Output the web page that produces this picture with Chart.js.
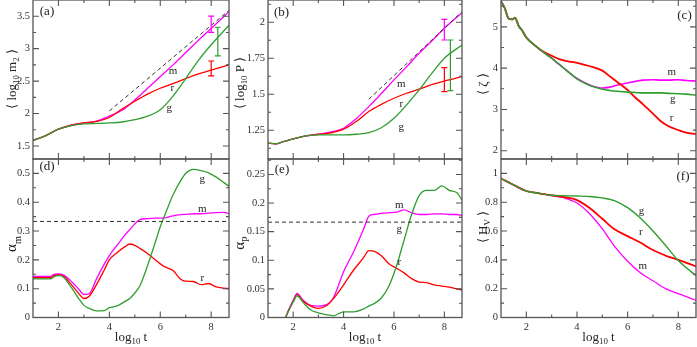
<!DOCTYPE html>
<html>
<head>
<meta charset="utf-8">
<script src="https://cdn.jsdelivr.net/npm/chart.js@4.4.0/dist/chart.umd.min.js"></script>
<style>
  html, body { margin: 0; padding: 0; background: #fff; }
  #wrap { position: relative; width: 697px; height: 347px; overflow: hidden; }
  #wrap canvas { position: absolute; left: 0; top: 0; }
</style>
</head>
<body>
<div id="wrap">
  <canvas id="pa" width="697" height="347"></canvas>
  <canvas id="pb" width="697" height="347"></canvas>
  <canvas id="pc" width="697" height="347"></canvas>
  <canvas id="pd" width="697" height="347"></canvas>
  <canvas id="pe" width="697" height="347"></canvas>
  <canvas id="pf" width="697" height="347"></canvas>
</div>
<script>
// ---- data (x = log10 t) ----
const xTicks = [2, 4, 6, 8];

// (a) <log10 m2>
const tA = [1, 1.5, 2, 2.5, 3, 3.5, 4, 4.5, 5, 5.5, 6, 6.5, 7, 7.5, 8, 8.7];
const aM = [1.585, 1.66, 1.76, 1.82, 1.855, 1.885, 1.96, 2.05, 2.21, 2.39, 2.57, 2.75, 2.94, 3.13, 3.31, 3.57];
const aR = [1.585, 1.66, 1.76, 1.82, 1.855, 1.88, 1.94, 2.07, 2.19, 2.30, 2.39, 2.46, 2.54, 2.61, 2.67, 2.75];
const aG = [1.585, 1.66, 1.76, 1.815, 1.84, 1.848, 1.856, 1.87, 1.905, 1.96, 2.06, 2.27, 2.54, 2.82, 3.06, 3.36];
const aDashT = [4, 8.7];
const aDashV = [2.04, 3.59];
const aErrT = [8, 8, 8.26];
const aErrLo = [3.25, 2.58, 2.89];
const aErrHi = [3.5, 2.81, 3.33];

// (b) <log10 P>
const tB = [1, 1.3, 1.6, 2, 2.5, 3, 3.5, 4, 4.5, 5, 5.5, 6, 6.5, 7, 7.5, 8, 8.7];
const bM = [1.16, 1.155, 1.17, 1.19, 1.21, 1.222, 1.238, 1.264, 1.33, 1.414, 1.505, 1.60, 1.69, 1.785, 1.87, 1.958, 2.067];
const bR = [1.16, 1.155, 1.17, 1.19, 1.21, 1.222, 1.232, 1.257, 1.31, 1.38, 1.43, 1.472, 1.507, 1.535, 1.567, 1.592, 1.622];
const bG = [1.16, 1.155, 1.17, 1.19, 1.21, 1.218, 1.218, 1.218, 1.222, 1.233, 1.267, 1.333, 1.426, 1.53, 1.645, 1.75, 1.842];
const bDashT = [5, 8.7];
const bDashV = [1.465, 2.074];
const bErrT = [8, 8, 8.24];
const bErrLo = [1.877, 1.518, 1.525];
const bErrHi = [2.021, 1.685, 1.877];

// (c) <zeta>
const tC = [1, 1.15, 1.3, 1.45, 1.55, 1.7, 1.85, 2, 2.3, 2.6, 3, 3.3, 3.6, 4, 4.3, 4.6, 5, 5.3, 5.6, 6, 6.3, 6.6, 7, 7.3, 7.6, 8, 8.3, 8.7];
const cM = [5.62, 5.45, 5.2, 5.18, 5.22, 5.02, 4.9, 4.74, 4.57, 4.42, 4.24, 4.09, 3.94, 3.75, 3.65, 3.57, 3.52, 3.54, 3.59, 3.64, 3.68, 3.71, 3.72, 3.71, 3.71, 3.72, 3.70, 3.69];
const cR = [5.62, 5.45, 5.2, 5.18, 5.22, 5.02, 4.9, 4.74, 4.57, 4.43, 4.30, 4.22, 4.17, 4.13, 4.08, 4.03, 3.94, 3.80, 3.66, 3.47, 3.29, 3.13, 2.90, 2.72, 2.60, 2.50, 2.44, 2.40];
const cG = [5.62, 5.45, 5.2, 5.18, 5.22, 5.02, 4.9, 4.74, 4.57, 4.42, 4.24, 4.09, 3.94, 3.74, 3.64, 3.56, 3.49, 3.46, 3.44, 3.42, 3.41, 3.40, 3.40, 3.40, 3.39, 3.38, 3.37, 3.35];

// (d) alpha_m
const tD = [1, 1.7, 1.8, 2, 2.2, 2.5, 2.8, 3, 3.2, 3.5, 3.8, 4, 4.3, 4.6, 4.8, 5, 5.2, 5.5, 5.8, 6, 6.2, 6.5, 6.8, 7, 7.3, 7.6, 7.9, 8.2, 8.5, 8.7];
const dM = [0.143, 0.143, 0.149, 0.151, 0.147, 0.126, 0.098, 0.08, 0.082, 0.135, 0.185, 0.215, 0.25, 0.285, 0.305, 0.325, 0.34, 0.343, 0.345, 0.345, 0.346, 0.353, 0.357, 0.358, 0.36, 0.36, 0.362, 0.364, 0.365, 0.36];
const dR = [0.138, 0.138, 0.145, 0.148, 0.143, 0.115, 0.083, 0.066, 0.073, 0.115, 0.165, 0.20, 0.225, 0.245, 0.255, 0.25, 0.24, 0.222, 0.20, 0.186, 0.175, 0.163, 0.133, 0.126, 0.125, 0.114, 0.118, 0.106, 0.102, 0.10];
const dG = [0.134, 0.134, 0.14, 0.145, 0.14, 0.105, 0.065, 0.042, 0.032, 0.023, 0.024, 0.034, 0.04, 0.055, 0.066, 0.085, 0.11, 0.18, 0.26, 0.315, 0.36, 0.425, 0.475, 0.5, 0.514, 0.51, 0.502, 0.487, 0.468, 0.455];
const dRef = 1 / 3;

// (e) alpha_P
const tE = [1.7, 1.8, 2, 2.15, 2.4, 2.7, 3, 3.3, 3.6, 4, 4.4, 4.8, 5, 5.2, 5.5, 5.8, 6.1, 6.4, 6.7, 7, 7.3, 7.6, 7.9, 8.2, 8.5, 8.7];
const eM = [0, 0.012, 0.03, 0.042, 0.03, 0.021, 0.02, 0.022, 0.035, 0.08, 0.115, 0.155, 0.177, 0.18, 0.182, 0.183, 0.184, 0.188, 0.183, 0.18, 0.18, 0.181, 0.181, 0.18, 0.18, 0.178];
const eR = [0, 0.01, 0.028, 0.04, 0.028, 0.02, 0.016, 0.02, 0.033, 0.057, 0.083, 0.105, 0.117, 0.116, 0.108, 0.094, 0.086, 0.078, 0.068, 0.062, 0.061, 0.057, 0.055, 0.053, 0.05, 0.048];
const eG = [0, 0.01, 0.027, 0.038, 0.026, 0.013, 0.008, 0.005, 0.003, 0.01, 0.01, 0.015, 0.02, 0.024, 0.034, 0.055, 0.09, 0.135, 0.18, 0.213, 0.222, 0.222, 0.23, 0.222, 0.218, 0.205];
const eRef = 1 / 6;

// (f) <H_V>
const tF = [1, 1.5, 2, 2.5, 3, 3.5, 4, 4.5, 5, 5.5, 6, 6.5, 7, 7.5, 8, 8.7];
const fG = [0.965, 0.92, 0.878, 0.862, 0.848, 0.845, 0.843, 0.84, 0.83, 0.81, 0.762, 0.69, 0.60, 0.50, 0.395, 0.29];
const fR = [0.965, 0.92, 0.878, 0.862, 0.848, 0.835, 0.815, 0.76, 0.685, 0.61, 0.565, 0.52, 0.468, 0.43, 0.40, 0.355];
const fM = [0.965, 0.92, 0.878, 0.862, 0.846, 0.83, 0.795, 0.72, 0.615, 0.49, 0.39, 0.31, 0.255, 0.20, 0.165, 0.12];

const MAG = '#ff00ff', RED = '#ff0000', GRN = '#2f9e2f';
const SERIF = '"Liberation Serif", "Times New Roman", serif';
const W = 697, H = 347, YW = 40, XH = 14;

const zip = (xs, ys) => xs.map((x, i) => ({ x, y: ys[i] }));

// "log_{10} m_{2}" -> parts with subscripts
function parseRich(s) {
  const parts = [];
  s.split(/(_\{[^}]*\})/).forEach(p => {
    if (!p) return;
    if (p.startsWith('_{')) parts.push({ s: p.slice(2, -1), sub: true });
    else parts.push({ s: p, sub: false });
  });
  return parts;
}

function drawRich(ctx, text, x, y, size, rotate) {
  const parts = parseRich(text);
  ctx.save();
  ctx.translate(x, y);
  if (rotate) ctx.rotate(-Math.PI / 2);
  let total = 0;
  parts.forEach(p => {
    ctx.font = (p.sub ? size * 0.68 : size) + 'px ' + SERIF;
    p.w = ctx.measureText(p.s).width;
    total += p.w;
  });
  let cx = -total / 2;
  ctx.textBaseline = 'alphabetic';
  ctx.textAlign = 'left';
  ctx.fillStyle = '#222';
  parts.forEach(p => {
    ctx.font = (p.sub ? size * 0.68 : size) + 'px ' + SERIF;
    ctx.fillText(p.s, cx, size * 0.35 + (p.sub ? size * 0.3 : 0));
    cx += p.w;
  });
  ctx.restore();
}

function minorList(min, max, step, majors) {
  const out = [];
  for (let k = Math.ceil(min / step - 1e-9); k * step <= max + 1e-9; k++) {
    const v = +(k * step).toFixed(6);
    if (v <= min + 1e-9 || v >= max - 1e-9) continue;
    if (majors.some(m => Math.abs(m - v) < 1e-9)) continue;
    out.push(v);
  }
  return out;
}

const deco = {
  id: 'deco',
  afterDraw(chart, args, o) {
    const { ctx, chartArea: a } = chart;
    const x = chart.scales.x, y = chart.scales.y;
    ctx.save();

    // error bars
    (o.errs || []).forEach(e => {
      const px = x.getPixelForValue(e.t);
      const p1 = y.getPixelForValue(e.lo), p2 = y.getPixelForValue(e.hi);
      ctx.strokeStyle = e.color;
      ctx.lineWidth = 1.2;
      ctx.beginPath();
      ctx.moveTo(px, p1); ctx.lineTo(px, p2);
      ctx.moveTo(px - 3, p1); ctx.lineTo(px + 3, p1);
      ctx.moveTo(px - 3, p2); ctx.lineTo(px + 3, p2);
      ctx.stroke();
    });

    // frame + inward ticks on all four sides
    ctx.strokeStyle = '#555';
    ctx.lineWidth = 1.3;
    ctx.strokeRect(a.left, a.top, a.right - a.left, a.bottom - a.top);
    ctx.lineWidth = 1.1;
    ctx.beginPath();
    const xMin = minorList(x.min, x.max, 1, xTicks);
    xTicks.concat(xMin).forEach(v => {
      const len = xTicks.includes(v) ? 6 : 3;
      const px = x.getPixelForValue(v);
      ctx.moveTo(px, a.bottom); ctx.lineTo(px, a.bottom - len);
      ctx.moveTo(px, a.top); ctx.lineTo(px, a.top + len);
    });
    const yMin = minorList(y.min, y.max, o.yMinor, o.yMajor);
    o.yMajor.concat(yMin).forEach(v => {
      const len = o.yMajor.includes(v) ? 6 : 3;
      const py = y.getPixelForValue(v);
      ctx.moveTo(a.left, py); ctx.lineTo(a.left + len, py);
      ctx.moveTo(a.right, py); ctx.lineTo(a.right - len, py);
    });
    ctx.stroke();

    // panel letter
    ctx.fillStyle = '#222';
    ctx.font = '13px ' + SERIF;
    ctx.textAlign = 'center';
    ctx.textBaseline = 'middle';
    ctx.fillText(o.letter, o.letterAt[0], o.letterAt[1]);

    // curve labels in data coordinates
    ctx.font = '11px ' + SERIF;
    (o.tags || []).forEach(g => {
      ctx.fillText(g.s, x.getPixelForValue(g.t), y.getPixelForValue(g.v));
    });

    // axis titles
    drawRich(ctx, o.yTitle, o.yTitleAt[0], o.yTitleAt[1], o.yTitleSize || 13, true);
    if (o.xTitle) drawRich(ctx, o.xTitle, (a.left + a.right) / 2, 336, 13, false);
    ctx.restore();
  }
};

function line(data, color, width) {
  return { data, borderColor: color, borderWidth: width || 1.3, pointRadius: 0,
           cubicInterpolationMode: 'monotone', fill: false };
}
function dashed(data) {
  return { data, borderColor: '#333', borderWidth: 1, borderDash: [4, 3],
           pointRadius: 0, tension: 0, fill: false };
}

function makePanel(id, p) {
  const [l, t, r, b] = p.area;
  const fmt = v => String(+v.toFixed(4));
  new Chart(document.getElementById(id), {
    type: 'line',
    data: { datasets: p.datasets },
    options: {
      responsive: false,
      animation: false,
      devicePixelRatio: 1,
      layout: { padding: { left: l - YW, top: t, right: W - r, bottom: H - b - (p.xLabels ? XH : 0) } },
      plugins: { legend: { display: false }, tooltip: { enabled: false }, deco: p.deco },
      scales: {
        x: {
          type: 'linear', min: 1, max: 8.7,
          grid: { display: false, drawTicks: false },
          border: { display: false },
          ticks: { display: p.xLabels, padding: 3, color: '#333',
                   font: { family: SERIF, size: 10.5 }, callback: fmt },
          afterBuildTicks: s => { s.ticks = xTicks.map(v => ({ value: v })); },
          afterFit: s => { s.height = p.xLabels ? XH : 0; s.paddingLeft = 0; s.paddingRight = 0; }
        },
        y: {
          type: 'linear', min: p.yRange[0], max: p.yRange[1],
          grid: { display: false, drawTicks: false },
          border: { display: false },
          ticks: { padding: 3, color: '#333', font: { family: SERIF, size: 10.5 }, callback: fmt },
          afterBuildTicks: s => { s.ticks = p.deco.yMajor.map(v => ({ value: v })); },
          afterFit: s => { s.width = YW; s.paddingTop = 0; s.paddingBottom = 0; }
        }
      }
    },
    plugins: [deco]
  });
}

const TOP = [0, 159], BOT = [159, 317.5];
const COLA = [33, 229], COLB = [268, 462], COLC = [501, 696];

makePanel('pa', {
  area: [COLA[0], TOP[0], COLA[1], TOP[1]], yRange: [1.3, 3.75], xLabels: false,
  datasets: [dashed(zip(aDashT, aDashV)), line(zip(tA, aG), GRN), line(zip(tA, aR), RED), line(zip(tA, aM), MAG)],
  deco: {
    yMajor: [1.5, 2, 2.5, 3, 3.5], yMinor: 0.25,
    errs: [MAG, RED, GRN].map((c, i) => ({ t: aErrT[i], lo: aErrLo[i], hi: aErrHi[i], color: c })),
    letter: '(a)', letterAt: [47, 12],
    tags: [{ s: 'm', t: 6.5, v: 2.65 }, { s: 'r', t: 6.47, v: 2.39 }, { s: 'g', t: 6.35, v: 2.08 }],
    yTitle: '\u27e8 log_{10} m_{2} \u27e9', yTitleAt: [11, 79]
  }
});

makePanel('pb', {
  area: [COLB[0], TOP[0], COLB[1], TOP[1]], yRange: [1.05, 2.155], xLabels: false,
  datasets: [dashed(zip(bDashT, bDashV)), line(zip(tB, bG), GRN), line(zip(tB, bR), RED), line(zip(tB, bM), MAG)],
  deco: {
    yMajor: [1.25, 1.5, 1.75, 2], yMinor: 0.125,
    errs: [MAG, RED, GRN].map((c, i) => ({ t: bErrT[i], lo: bErrLo[i], hi: bErrHi[i], color: c })),
    letter: '(b)', letterAt: [281.5, 13],
    tags: [{ s: 'm', t: 6.29, v: 1.57 }, { s: 'r', t: 6.29, v: 1.43 }, { s: 'g', t: 6.29, v: 1.27 }],
    yTitle: '\u27e8 log_{10} P \u27e9', yTitleAt: [239, 83]
  }
});

makePanel('pc', {
  area: [COLC[0], TOP[0], COLC[1], TOP[1]], yRange: [1.8, 5.65], xLabels: false,
  datasets: [line(zip(tC, cG), GRN, 1.6), line(zip(tC, cR), RED, 1.8), line(zip(tC, cM), MAG, 1.6)],
  deco: {
    yMajor: [2, 3, 4, 5], yMinor: 0.5,
    letter: '(c)', letterAt: [684.5, 16],
    tags: [{ s: 'm', t: 7.74, v: 3.9 }, { s: 'g', t: 7.78, v: 3.25 }, { s: 'r', t: 7.74, v: 2.78 }],
    yTitle: '\u27e8 \u03b6 \u27e9', yTitleAt: [482, 84]
  }
});

makePanel('pd', {
  area: [COLA[0], BOT[0], COLA[1], BOT[1]], yRange: [0, 0.55], xLabels: true,
  datasets: [dashed([{ x: 1, y: dRef }, { x: 8.7, y: dRef }]), line(zip(tD, dG), GRN), line(zip(tD, dR), RED), line(zip(tD, dM), MAG)],
  deco: {
    yMajor: [0, 0.1, 0.2, 0.3, 0.4, 0.5], yMinor: 0.05,
    letter: '(d)', letterAt: [47, 167],
    tags: [{ s: 'g', t: 7.65, v: 0.48 }, { s: 'm', t: 7.65, v: 0.377 }, { s: 'r', t: 7.65, v: 0.136 }],
    yTitle: '\u03b1_{m}', yTitleSize: 15, yTitleAt: [11, 244], xTitle: 'log_{10} t'
  }
});

makePanel('pe', {
  area: [COLB[0], BOT[0], COLB[1], BOT[1]], yRange: [0, 0.277], xLabels: true,
  datasets: [dashed([{ x: 1, y: eRef }, { x: 8.7, y: eRef }]), line(zip(tE, eG), GRN), line(zip(tE, eR), RED), line(zip(tE, eM), MAG)],
  deco: {
    yMajor: [0, 0.05, 0.1, 0.15, 0.2, 0.25], yMinor: 0.025,
    letter: '(e)', letterAt: [282, 170],
    tags: [{ s: 'm', t: 6.21, v: 0.196 }, { s: 'g', t: 6.21, v: 0.155 }, { s: 'r', t: 6.21, v: 0.096 }],
    yTitle: '\u03b1_{P}', yTitleSize: 15, yTitleAt: [239, 243], xTitle: 'log_{10} t'
  }
});

makePanel('pf', {
  area: [COLC[0], BOT[0], COLC[1], BOT[1]], yRange: [0, 1.1], xLabels: true,
  datasets: [line(zip(tF, fG), GRN, 1.4), line(zip(tF, fR), RED, 1.8), line(zip(tF, fM), MAG)],
  deco: {
    yMajor: [0, 0.2, 0.4, 0.6, 0.8, 1], yMinor: 0.1,
    letter: '(f)', letterAt: [683, 177],
    tags: [{ s: 'g', t: 6.55, v: 0.74 }, { s: 'r', t: 6.52, v: 0.59 }, { s: 'm', t: 6.6, v: 0.355 }],
    yTitle: '\u27e8 H_{V} \u27e9', yTitleAt: [482, 227], xTitle: 'log_{10} t'
  }
});
</script>
</body>
</html>
